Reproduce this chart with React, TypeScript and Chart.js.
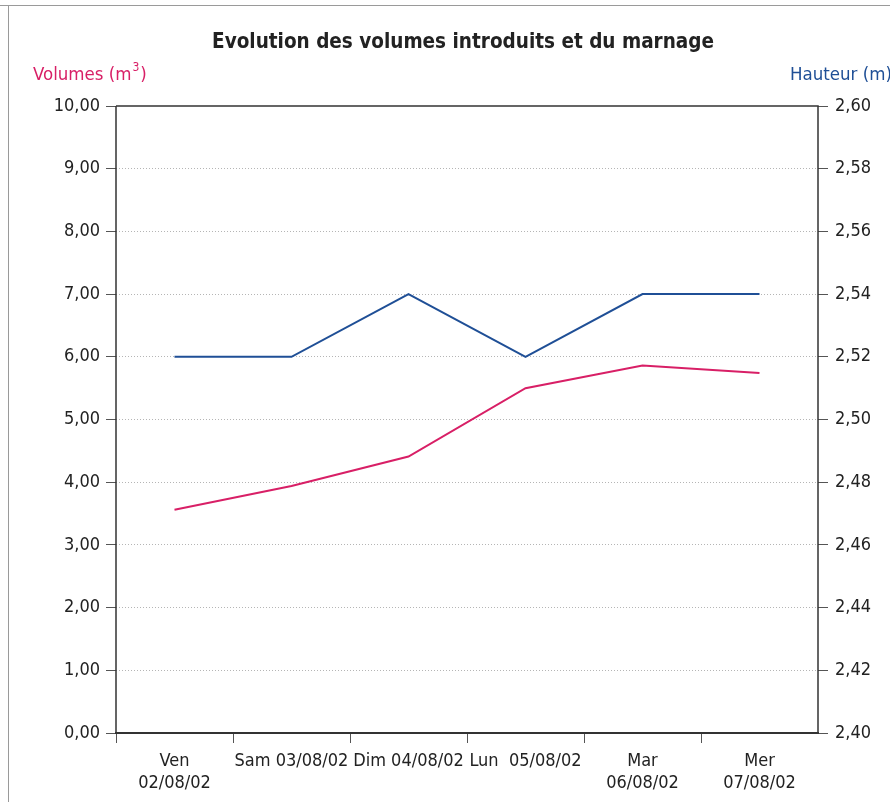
import { useEffect, useRef } from "react";
import { Chart, registerables } from "chart.js";

Chart.register(...registerables);

const categories: (string | string[])[] = [
  ["Ven", "02/08/02"],
  "Sam 03/08/02",
  "Dim 04/08/02",
  "Lun  05/08/02",
  ["Mar", "06/08/02"],
  ["Mer", "07/08/02"],
];
const volumes = [3.56, 3.94, 4.41, 5.5, 5.86, 5.74];
const hauteur = [2.52, 2.52, 2.54, 2.52, 2.54, 2.54];

const titleText = "Evolution des volumes introduits et du marnage";
const leftTitle = "Volumes (m";
const rightTitle = "Hauteur (m)";

const FONT = "'Liberation Sans Narrow', 'DejaVu Sans Condensed', 'Open Sans', sans-serif";
const PINK = "#d81f66";
const BLUE = "#1f4f96";
const AXIS = "#333333";

const fmt = (v: number) => v.toFixed(2).replace(".", ",");

export default function App() {
  const ref = useRef<HTMLCanvasElement | null>(null);

  useEffect(() => {
    document.body.style.margin = "0";
    const canvas = ref.current!;
    const deco = {
      id: "deco",
      afterDraw(chart: any) {
        const ctx = chart.ctx as CanvasRenderingContext2D;
        const a = chart.chartArea;
        ctx.save();
        ctx.setLineDash([]);
        // page frame
        ctx.strokeStyle = "#9a9a9a";
        ctx.lineWidth = 1;
        ctx.beginPath();
        ctx.moveTo(0, 5.5);
        ctx.lineTo(890, 5.5);
        ctx.moveTo(8.5, 6);
        ctx.lineTo(8.5, 802);
        ctx.stroke();
        // plot frame
        ctx.strokeStyle = AXIS;
        ctx.lineWidth = 1.5;
        ctx.beginPath();
        ctx.moveTo(a.left, a.top);
        ctx.lineTo(a.right, a.top);
        ctx.lineTo(a.right, a.bottom);
        ctx.moveTo(a.left, a.top);
        ctx.lineTo(a.left, a.bottom);
        ctx.stroke();
        // title
        ctx.fillStyle = "#222";
        ctx.font = `bold 20.5px ${FONT}`;
        ctx.textAlign = "center";
        ctx.textBaseline = "middle";
        ctx.fillText(titleText, 463, 43);
        // left axis title
        ctx.font = `18.5px ${FONT}`;
        ctx.textAlign = "left";
        ctx.fillStyle = PINK;
        ctx.fillText(leftTitle, 33, 75);
        const w = ctx.measureText(leftTitle).width;
        ctx.font = `12px ${FONT}`;
        ctx.fillText("3", 33 + w + 1, 68);
        const w3 = ctx.measureText("3").width;
        ctx.font = `18.5px ${FONT}`;
        ctx.fillText(")", 33 + w + w3 + 2, 75);
        // right axis title
        ctx.fillStyle = BLUE;
        ctx.fillText(rightTitle, 790, 75);
        ctx.restore();
      },
    };

    const chart = new Chart(canvas, {
      type: "line",
      data: {
        labels: categories as any,
        datasets: [
          {
            label: "Volumes",
            data: volumes,
            borderColor: PINK,
            backgroundColor: PINK,
            borderWidth: 2,
            pointRadius: 0,
            tension: 0,
            yAxisID: "y",
          },
          {
            label: "Hauteur",
            data: hauteur,
            borderColor: BLUE,
            backgroundColor: BLUE,
            borderWidth: 2,
            pointRadius: 0,
            tension: 0,
            yAxisID: "y2",
          },
        ],
      },
      options: {
        responsive: false,
        animation: false,
        layout: { padding: { top: 106, left: 0, right: 0, bottom: 0 } },
        plugins: {
          legend: { display: false },
          title: { display: false },
          tooltip: { enabled: false },
        },
        scales: {
          x: {
            type: "category",
            offset: true,
            grid: {
              offset: true,
              drawOnChartArea: false,
              drawTicks: true,
              tickLength: 10,
              tickColor: (c: any) => (c.index === undefined ? "rgba(0,0,0,0)" : "#555"),
              tickWidth: 1,
            },
            border: { display: true, color: AXIS, width: 2 },
            ticks: {
              color: "#222",
              font: { family: FONT, size: 18 },
              padding: 8,
              maxRotation: 0,
              minRotation: 0,
              autoSkip: false,
            },
            afterFit: (s: any) => {
              s.height = 69;
            },
          },
          y: {
            position: "left",
            min: 0,
            max: 10,
            ticks: {
              stepSize: 1,
              color: "#222",
              font: { family: FONT, size: 18 },
              padding: 6,
              callback: (v: any) => fmt(Number(v)),
            },
            grid: {
              color: (c: any) => (c.tick && (c.tick.value === 0 || c.tick.value === 10) ? "rgba(0,0,0,0)" : "#b5b5b5"),
              lineWidth: 1,
              drawTicks: true,
              tickLength: 10,
              tickColor: "#555",
              tickBorderDash: [],
            },
            border: { display: false, dash: [1, 2] },
            afterFit: (s: any) => {
              s.width = 116;
            },
          },
          y2: {
            position: "right",
            min: 2.4,
            max: 2.6,
            ticks: {
              stepSize: 0.02,
              color: "#222",
              font: { family: FONT, size: 18 },
              padding: 7,
              callback: (v: any) => fmt(Number(v)),
            },
            grid: {
              drawOnChartArea: false,
              drawTicks: true,
              tickLength: 10,
              tickColor: "#555",
            },
            border: { display: false },
            afterFit: (s: any) => {
              s.width = 72;
            },
          },
        },
      },
      plugins: [deco],
    } as any);
    return () => chart.destroy();
  }, []);

  return <canvas ref={ref} width={890} height={802} style={{ display: "block" }} />;
}
